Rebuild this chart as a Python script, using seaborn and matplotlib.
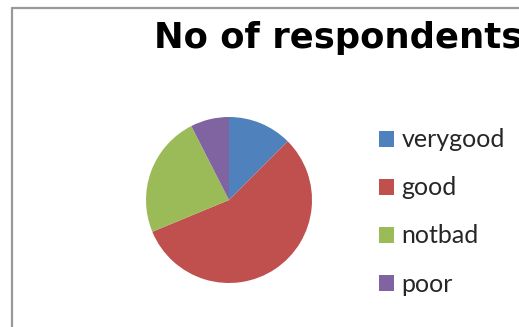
import matplotlib
matplotlib.use("Agg")
import matplotlib.pyplot as plt
import seaborn as sns
from matplotlib.lines import Line2D

# data
categories = ["verygood", "good", "notbad", "poor"]
respondents = [10, 45, 19, 6]
title = "No of respondents"

sns.set_theme(style="white")
plt.rcParams["font.family"] = ["Lato", "DejaVu Sans"]
colors = sns.color_palette(["#4F81BD", "#C0504D", "#9BBB59", "#8064A2"])

W, H = 519, 327
fig = plt.figure(figsize=(W / 100, H / 100), dpi=100)
fig.patch.set_facecolor("white")

# pie area (center ~ (229,200), radius ~83 px)
ax = fig.add_axes([(229 - 83) / W, (H - 283) / H, 166 / W, 166 / H])
wedges, _ = ax.pie(respondents, colors=colors, startangle=90, counterclock=False,
                   radius=1.0, wedgeprops=dict(linewidth=0))
ax.set_xlim(-1, 1)
ax.set_ylim(-1, 1)
ax.set_aspect("equal")
ax.axis("off")

# title, cut off at the right edge like the reference (wide bold face)
fig.text(154 / W, (H - 48) / H, title, ha="left", va="baseline",
         fontsize=25.5, fontweight="bold", color="black", family="DejaVu Sans")

# legend
leg = fig.legend(wedges, categories, loc="upper left",
                 bbox_to_anchor=(366 / W, (H - 116) / H),
                 frameon=False, fontsize=18, handlelength=0.62, handleheight=0.62,
                 handletextpad=0.3, labelspacing=1.0, borderpad=0)

# chart frame: only left and top edges show in the reference
frame_kw = dict(color="#999999", linewidth=1.6, transform=fig.transFigure)
fig.add_artist(Line2D([11.5 / W, 11.5 / W], [0, (H - 7.5) / H], **frame_kw))
fig.add_artist(Line2D([11.5 / W, 1], [(H - 7.5) / H, (H - 7.5) / H], **frame_kw))

fig.savefig("out.png", dpi=100)
